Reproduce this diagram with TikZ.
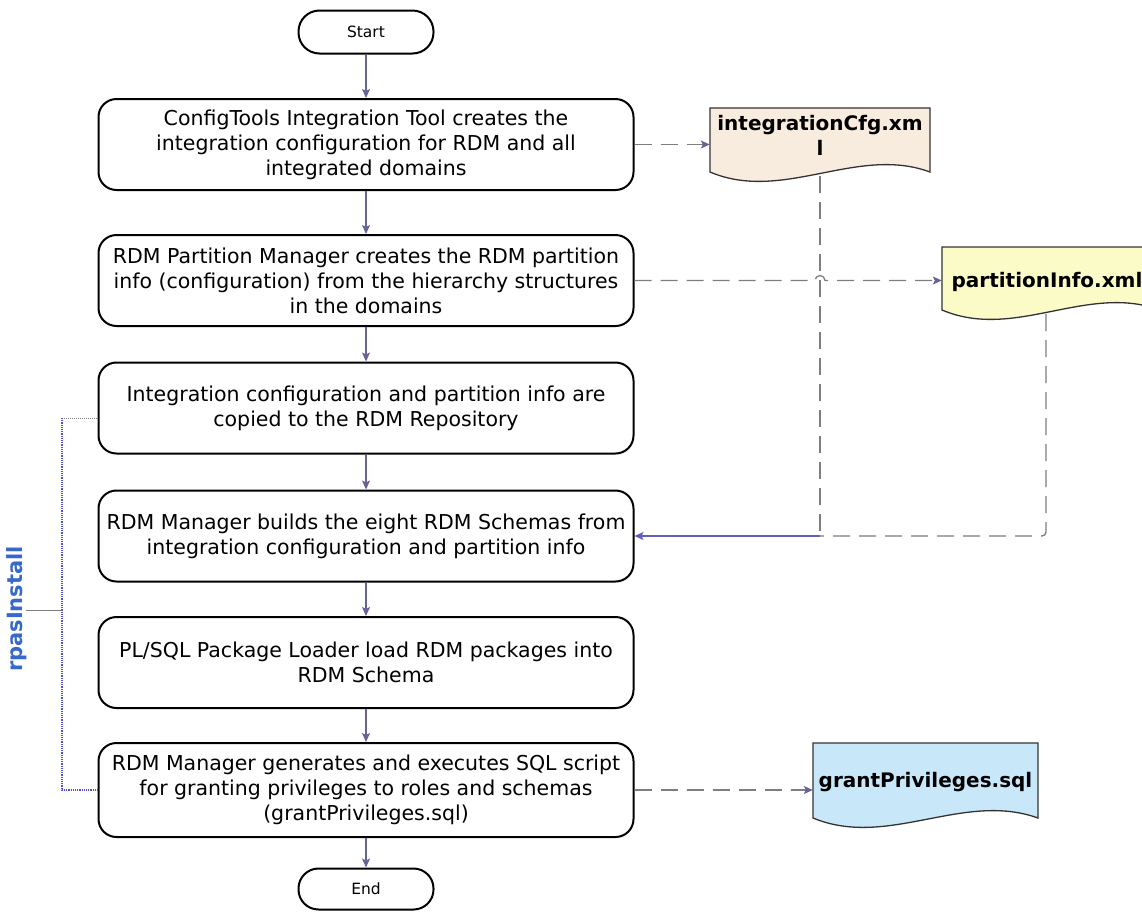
\documentclass[tikz,border=0pt]{standalone}
\usepackage{fontspec}
\setmainfont{DejaVu Sans}
\usetikzlibrary{arrows.meta,calc}
\definecolor{arrowc}{RGB}{100,100,150}
\definecolor{dashc}{RGB}{125,125,130}
\definecolor{docA}{RGB}{248,236,222}
\definecolor{docB}{RGB}{251,251,200}
\definecolor{docC}{RGB}{200,232,250}
\definecolor{rpasc}{RGB}{55,105,200}
\definecolor{bracketc}{RGB}{80,80,210}
\definecolor{joinc}{RGB}{95,95,190}
\begin{document}
\begin{tikzpicture}[x=1pt,y=-1pt,
  procbox/.style={draw=black, line width=2pt, rounded corners=18pt, minimum width=535pt,
    minimum height=91pt, align=center, font=\fontsize{20.5}{25}\selectfont, inner sep=0pt},
  term/.style={draw=black, line width=2pt, rounded corners=21pt, minimum width=135pt,
    minimum height=43pt, font=\fontsize{15.5}{18}\selectfont, inner sep=0pt},
  flow/.style={draw=arrowc, line width=1.3pt, -{Stealth[length=9pt,width=8pt,inset=2pt]}},
  dataflow/.style={draw=dashc, line width=1.3pt, dash pattern=on 17pt off 9pt},
  dataarrow/.style={dataflow, -{Stealth[length=9pt,width=8pt,inset=2pt,color=arrowc]}},
  doclabel/.style={font=\fontsize{20}{25}\selectfont\bfseries, align=center, inner sep=0pt},
  docshape/.style={draw=black!80, line width=1.3pt}
]
\useasboundingbox (0,0) rectangle (1142,914);

% document shapes
\draw[docshape, fill=docA] (710,108) -- (930,108) -- (930,172)
  .. controls (857,145) and (783,203) .. (710,172) -- cycle;
\draw[docshape, fill=docB] (942,247) -- (1160,247) -- (1160,310)
  .. controls (1087,283) and (1015,341) .. (942,310) -- cycle;
\draw[docshape, fill=docC] (813,743) -- (1038,743) -- (1038,818)
  .. controls (963,791) and (888,849) .. (813,818) -- cycle;

% nodes
\node[term] (start) at (366,32) {Start};
\node[procbox] (b1) at (366,144.5) {ConfigTools Integration Tool creates the\\integration configuration for RDM and all\\integrated domains};
\node[procbox] (b2) at (366,280.5) {RDM Partition Manager creates the RDM partition\\info (configuration) from the hierarchy structures\\in the domains};
\node[procbox] (b3) at (366,408) {Integration configuration and partition info are\\copied to the RDM Repository};
\node[procbox] (b4) at (366,536) {RDM Manager builds the eight RDM Schemas from\\integration configuration and partition info};
\node[procbox] (b5) at (366,662.5) {PL/SQL Package Loader load RDM packages into\\RDM Schema};
\node[procbox, minimum height=94pt] (b6) at (366,790) {RDM Manager generates and executes SQL script\\for granting privileges to roles and schemas\\(grantPrivileges.sql)};
\node[term, minimum height=41pt, rounded corners=20pt] (end) at (366,889) {End};

\node[doclabel, minimum width=220pt] (d1) at (820,135) {integrationCfg.xm\\l};
\node[doclabel, minimum width=210pt] (d2) at (1047,282) {partitionInfo.xml};
\node[doclabel, minimum width=225pt] (d3) at (925.5,782) {grantPrivileges.sql};

% main flow
\draw[flow] (start) -- (b1);
\draw[flow] (b1) -- (b2);
\draw[flow] (b2) -- (b3);
\draw[flow] (b3) -- (b4);
\draw[flow] (b4) -- (b5);
\draw[flow] (b5) -- (b6);
\draw[flow] (b6) -- (end);

% data flows
\draw[dataarrow] (b1.east) -- (b1.east -| d1.west);
\draw[dataarrow] (b2.east) -- ($(b2.east -| d1)+(-5,0)$) arc (180:360:5) -- (b2.east -| d2.west);
\draw[dataarrow] (b6.east) -- (b6.east -| d3.west);

\coordinate (w1) at (820,176);
\coordinate (w2) at (1046,314);
\draw[dataflow] (w1) -- (w1 |- b4.east);
\draw[dataflow, rounded corners=4pt] (w2) -- (w2 |- b4.east) -- (w1 |- b4.east);
\draw[flow, draw=joinc] (w1 |- b4.east) -- (b4.east);

% rpasInstall bracket
\coordinate (bt) at (62,418);
\coordinate (bb) at (62,790);
\coordinate (bm) at (62,610);
\draw[dashc, densely dotted, line width=1pt] (bt) -- (bt -| b3.west);
\draw[bracketc, densely dotted, line width=1.2pt] (bt) -- (bb) -- (b6.west);
\draw[dashc, line width=0.8pt] (bm) -- ++(-36,0) coordinate (bl);
\node[rotate=90, text=rpasc, font=\fontsize{21}{22}\selectfont\bfseries] (lab) at (17,609) {rpasInstall};
\end{tikzpicture}
\end{document}
